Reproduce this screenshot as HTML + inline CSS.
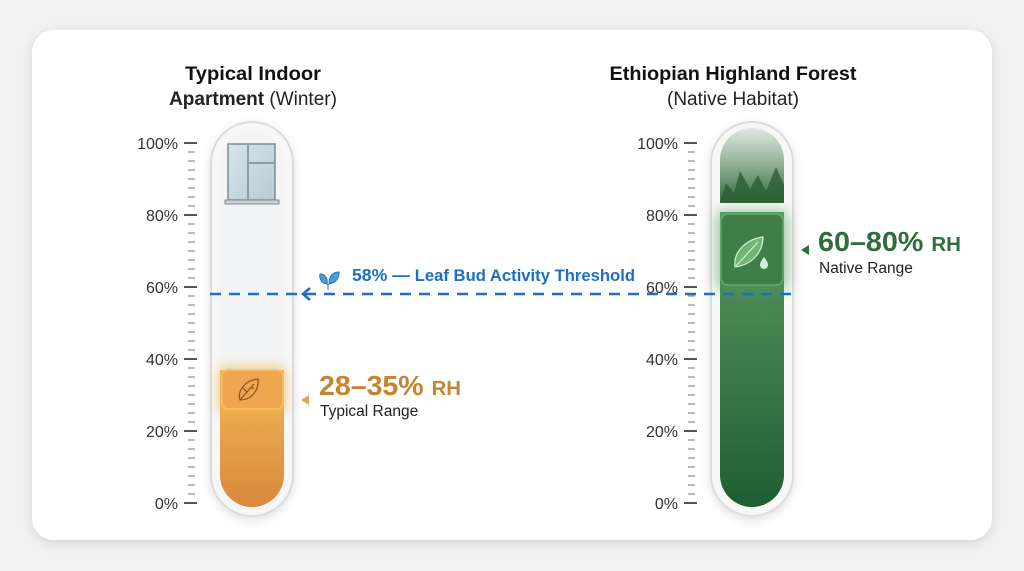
<!DOCTYPE html>
<html><head><style>
html,body{margin:0;padding:0;background:#f1f1f2;width:1024px;height:571px;overflow:hidden}
svg{display:block;font-family:"Liberation Sans",sans-serif}
</style></head><body>
<svg width="1024" height="571" viewBox="0 0 1024 571">
<defs>
<filter id="sh" x="-10%" y="-10%" width="120%" height="120%"><feDropShadow dx="0" dy="3" stdDeviation="5" flood-color="#000" flood-opacity="0.12"/></filter>
<filter id="glowO" x="-50%" y="-50%" width="200%" height="200%"><feGaussianBlur stdDeviation="6"/></filter>
<linearGradient id="og" x1="0" y1="0" x2="0" y2="1"><stop offset="0" stop-color="#f2b85a"/><stop offset="1" stop-color="#d8893a"/></linearGradient>
<linearGradient id="gg" x1="0" y1="0" x2="0" y2="1"><stop offset="0" stop-color="#5a9a62"/><stop offset="1" stop-color="#1f5e32"/></linearGradient>
<linearGradient id="fg" x1="0" y1="0" x2="0" y2="1"><stop offset="0" stop-color="#dfe8e0"/><stop offset="0.5" stop-color="#8fae93"/><stop offset="1" stop-color="#2e6a3a"/></linearGradient>
<linearGradient id="wg" x1="0" y1="0" x2="1" y2="1"><stop offset="0" stop-color="#d7e4ea"/><stop offset="1" stop-color="#b7cbd4"/></linearGradient>
</defs>
<rect x="32" y="30" width="960" height="510" rx="22" fill="#fff" filter="url(#sh)"/>

<text x="253" y="80" text-anchor="middle" font-size="19.5" font-weight="bold" fill="#111" textLength="136" lengthAdjust="spacingAndGlyphs">Typical Indoor</text>
<text x="253" y="105" text-anchor="middle" font-size="19" fill="#222"><tspan font-weight="bold">Apartment</tspan> (Winter)</text>
<text x="733" y="80" text-anchor="middle" font-size="19.5" font-weight="bold" fill="#111" textLength="247" lengthAdjust="spacingAndGlyphs">Ethiopian Highland Forest</text>
<text x="733" y="105" text-anchor="middle" font-size="19" fill="#222">(Native Habitat)</text>

<g font-size="16" fill="#333" text-anchor="end">
<text x="178" y="149">100%</text><text x="178" y="221">80%</text><text x="178" y="293">60%</text><text x="178" y="365">40%</text><text x="178" y="437">20%</text><text x="178" y="509">0%</text>
</g>
<g font-size="16" fill="#333" text-anchor="end">
<text x="678" y="149">100%</text><text x="678" y="221">80%</text><text x="678" y="293">60%</text><text x="678" y="365">40%</text><text x="678" y="437">20%</text><text x="678" y="509">0%</text>
</g>
<g stroke="#777" stroke-width="1">
<path id="ticks" d="M188 152h7M188 161h7M188 170h7M188 179h7M188 188h7M188 197h7M188 206h7M188 224h7M188 233h7M188 242h7M188 251h7M188 260h7M188 269h7M188 278h7M188 296h7M188 305h7M188 314h7M188 323h7M188 332h7M188 341h7M188 350h7M188 368h7M188 377h7M188 386h7M188 395h7M188 404h7M188 413h7M188 422h7M188 440h7M188 449h7M188 458h7M188 467h7M188 476h7M188 485h7M188 494h7"/>
<use href="#ticks" x="500"/>
</g>
<g stroke="#555" stroke-width="2">
<path d="M184 143h13M184 215h13M184 287h13M184 359h13M184 431h13M184 503h13"/>
<path d="M684 143h13M684 215h13M684 287h13M684 359h13M684 431h13M684 503h13"/>
</g>

<!-- left tube -->
<rect x="211" y="122" width="82" height="394" rx="41" fill="#f7f7f8" stroke="#dcdcdc" stroke-width="2" filter="url(#sh)"/>
<rect x="220" y="131" width="64" height="376" rx="32" fill="#f3f4f5"/>
<path d="M220 370h64v105a32 32 0 0 1-64 0z" fill="url(#og)"/>
<rect x="218" y="366" width="68" height="48" rx="8" fill="#f6b04a" opacity="0.6" filter="url(#glowO)"/>
<rect x="222" y="370" width="61" height="39" rx="6" fill="#eea651" stroke="#f5c070" stroke-width="1.5"/>
<g fill="none" stroke="#8a5a2a" stroke-width="1.3"><path d="M240 400c-3-10 6-20 18-21c1 12-7 21-18 21z"/><path d="M240 400l14-16M247 392l-4-4M251 388l3 0"/></g>
<g stroke="#7b8b96" stroke-width="1.5" fill="url(#wg)"><rect x="228" y="144" width="47" height="56"/></g>
<path d="M248 145v55M249 163h25" stroke="#7b8b96" stroke-width="1.5"/>
<rect x="225" y="200" width="54" height="4" fill="#c7d2d8" stroke="#7b8b96"/>

<!-- right tube -->
<rect x="711" y="122" width="82" height="394" rx="41" fill="#f7f7f8" stroke="#dcdcdc" stroke-width="2" filter="url(#sh)"/>
<path d="M720 160a32 32 0 0 1 64 0v43h-64z" fill="url(#fg)"/>
<path d="M720 203l6-20 8 10 6-22 10 18 8-14 8 16 10-24 8 18v18z" fill="#2b5e33" opacity="0.8"/>
<path d="M720 212h64v263a32 32 0 0 1-64 0z" fill="url(#gg)"/>
<rect x="716" y="210" width="72" height="80" rx="8" fill="#4e9a58" opacity="0.5" filter="url(#glowO)"/>
<rect x="721" y="214" width="62" height="71" rx="7" fill="#3e7f48" stroke="#6fae76" stroke-width="1.2"/>
<path d="M735 267c-2-16 12-28 28-30c0 16-12 28-28 30z" fill="#6fb873" stroke="#d6ecd6" stroke-width="1.2"/>
<path d="M736 266l22-24" stroke="#d6ecd6" stroke-width="1.2"/>
<path d="M764 257c-3 4-4 6-4 8a4 4 0 0 0 8 0c0-2-1-4-4-8z" fill="#cfeedd"/>

<!-- threshold line -->
<path d="M210 294H793" stroke="#1f6fc0" stroke-width="2.6" stroke-dasharray="11 8"/>
<path d="M310 288l-7 6 7 6" fill="none" stroke="#1f6fc0" stroke-width="2.6"/>
<path d="M327 284c-6-1-8-6-7-10c5 0 8 4 7 10zM329 284c0-8 4-12 10-12c0 7-4 11-10 12zM328 284v6" fill="#4a9fd6" stroke="#1f6fc0" stroke-width="1"/>
<text x="352" y="281" font-size="17.5" font-weight="bold" fill="#1f6fc0" textLength="283" lengthAdjust="spacingAndGlyphs">58% — <tspan font-size="16.5">Leaf Bud Activity Threshold</tspan></text>

<!-- labels -->
<path d="M309 395l-8 5 8 5z" fill="#e3a456"/>
<text x="319" y="395" font-size="28" font-weight="bold" fill="#c8832e" textLength="142" lengthAdjust="spacingAndGlyphs">28–35% <tspan font-size="20">RH</tspan></text>
<text x="320" y="416" font-size="15.5" fill="#222">Typical Range</text>
<path d="M809 245l-8 5 8 5z" fill="#2f6e3c"/>
<text x="818" y="251" font-size="28" font-weight="bold" fill="#2f6e3c" textLength="143" lengthAdjust="spacingAndGlyphs">60–80% <tspan font-size="20">RH</tspan></text>
<text x="819" y="273" font-size="15.5" fill="#222">Native Range</text>
</svg>
</body></html>
